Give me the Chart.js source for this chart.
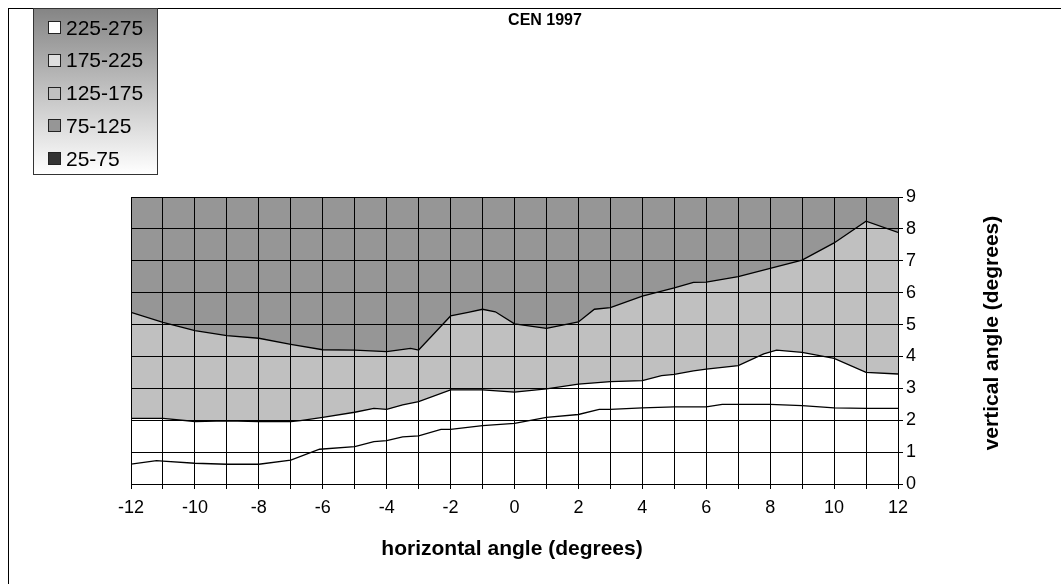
<!DOCTYPE html>
<html>
<head>
<meta charset="utf-8">
<script src="https://cdn.jsdelivr.net/npm/chart.js@4"></script>
<style>
  body { margin: 0; background: #fff; font-family: "Liberation Sans", Arial, sans-serif; }
  #wrap { position: relative; width: 1061px; height: 584px; overflow: hidden; }
  #frame { position: absolute; left: 8px; top: 8px; width: 1100px; height: 600px;
           border-left: 1px solid #000; border-top: 1px solid #000; }
  #chart { position: absolute; left: 0; top: 0; }
  #legend { position: absolute; left: 33px; top: 8px; width: 123px; height: 165px;
            border: 1px solid #333; background: linear-gradient(to bottom, #858585, #ffffff); }
  .row { position: absolute; left: 14px; height: 33px; display: flex; align-items: center;
         font-size: 21px; color: #000; }
  .sw { width: 11px; height: 11px; border: 1px solid #222; margin-right: 5px; }
  #title { position: absolute; left: 445px; width: 200px; top: 11px; text-align: center;
           font-weight: bold; font-size: 16px; }
  #xtitle { position: absolute; left: 312px; width: 400px; top: 536px; text-align: center;
            font-weight: bold; font-size: 21px; }
  #ytitle { position: absolute; left: 991px; top: 333px; width: 300px; text-align: center;
            font-weight: bold; font-size: 21px; transform: translate(-50%, -50%) rotate(-90deg); }
</style>
</head>
<body>
<div id="wrap">
  <canvas id="chart" width="1061" height="584"></canvas>
  <div id="frame"></div>
  <div id="legend"></div>
  <div id="title">CEN 1997</div>
  <div id="xtitle">horizontal angle (degrees)</div>
  <div id="ytitle">vertical angle (degrees)</div>
</div>
<script>
// Legend ranges and their shades
const ranges = ['225-275', '175-225', '125-175', '75-125', '25-75'];
const rangeColors = ['#ffffff', '#dedede', '#c0c0c0', '#969696', '#333333'];

// Contour line between 75-125 and 125-175
const upperX = [-12, -11, -10, -9, -8, -7, -6, -5, -4, -3.25, -3, -2.25, -2, -1.45, -1, -0.6, 0,
                1, 2, 2.5, 3, 4, 5, 5.6, 6, 7, 8, 9, 10, 11, 12];
const upperY = [5.38, 5.07, 4.81, 4.65, 4.57, 4.38, 4.21, 4.2, 4.15, 4.25, 4.2, 5.0, 5.27, 5.38, 5.48, 5.4, 5.02,
                4.88, 5.08, 5.48, 5.53, 5.89, 6.15, 6.32, 6.33, 6.5, 6.76, 7.02, 7.56, 8.24, 7.89];

// Contour line between 125-175 and 175-225
const middleX = [-12, -11, -10, -9, -8, -7, -6.7, -6, -5, -4.4, -4, -3.5, -3, -2, -1, 0,
                 1, 2, 3, 4, 4.6, 5, 5.6, 6, 7, 7.8, 8.2, 9, 10, 11, 12];
const middleY = [2.06, 2.06, 1.96, 1.98, 1.96, 1.96, 1.99, 2.09, 2.25, 2.37, 2.34, 2.48, 2.58, 2.95, 2.95, 2.88,
                 2.98, 3.13, 3.21, 3.24, 3.4, 3.44, 3.55, 3.6, 3.71, 4.08, 4.2, 4.13, 3.94, 3.5, 3.45];

// Contour line between 175-225 and 225-275
const lowerX = [-12, -11.2, -11, -10, -9, -8, -7, -6.1, -5, -4.4, -4, -3.5, -3, -2.3, -2, -1, 0,
                1, 2, 2.65, 3, 4, 5, 6, 6.5, 7, 8, 9, 10, 11, 12];
const lowerY = [0.62, 0.73, 0.72, 0.65, 0.62, 0.62, 0.75, 1.09, 1.17, 1.33, 1.36, 1.48, 1.51, 1.71, 1.71, 1.83, 1.9,
                2.09, 2.18, 2.34, 2.34, 2.39, 2.42, 2.42, 2.5, 2.5, 2.5, 2.46, 2.39, 2.37, 2.37];

const xLabelStep = 2;

// build legend
const legend = document.getElementById('legend');
ranges.forEach((r, i) => {
    const row = document.createElement('div');
    row.className = 'row';
    row.style.top = (2 + i * 32.75) + 'px';
    row.innerHTML = '<span class="sw" style="background:' + rangeColors[i] + '"></span>' + r;
    legend.appendChild(row);
});

const pts = (xs, ys) => xs.map((x, i) => ({ x: x, y: ys[i] }));

// paint the plot area with the 75-125 shade
const plotBackground = {
    id: 'plotBackground',
    beforeDatasetsDraw(chart) {
        const a = chart.chartArea;
        const ctx = chart.ctx;
        ctx.save();
        ctx.fillStyle = rangeColors[3];
        ctx.fillRect(a.left, a.top, a.right - a.left, a.bottom - a.top);
        ctx.restore();
    }
};

const ctx = document.getElementById('chart').getContext('2d');
new Chart(ctx, {
    type: 'line',
    data: {
        datasets: [
            { data: pts(lowerX, lowerY), borderColor: '#000', borderWidth: 1.3, fill: false },
            { data: pts(middleX, middleY), borderColor: '#000', borderWidth: 1.3,
              fill: 'origin', backgroundColor: rangeColors[0] },
            { data: pts(upperX, upperY), borderColor: '#000', borderWidth: 1.3,
              fill: 'origin', backgroundColor: rangeColors[2] }
        ]
    },
    options: {
        responsive: false,
        animation: false,
        devicePixelRatio: 1,
        layout: { padding: { left: 131, top: 197, right: 123, bottom: 60 } },
        elements: { point: { radius: 0 }, line: { tension: 0 } },
        plugins: { legend: { display: false }, tooltip: { enabled: false } },
        scales: {
            x: {
                type: 'linear', min: -12, max: 12,
                grid: { color: '#000', lineWidth: 1, tickLength: 5, z: 1 },
                border: { color: '#000', width: 1, z: 1 },
                ticks: {
                    stepSize: 1, autoSkip: false, maxRotation: 0, padding: 8,
                    color: '#000', font: { family: 'Liberation Sans', size: 18 },
                    callback: v => (v % xLabelStep === 0 ? String(v) : '')
                },
                afterFit: s => { s.height = 40; }
            },
            y: {
                position: 'right', min: 0, max: 9,
                grid: { color: '#000', lineWidth: 1, tickLength: 5, z: 1 },
                border: { color: '#000', width: 1, z: 1 },
                ticks: {
                    stepSize: 1, padding: 3,
                    color: '#000', font: { family: 'Liberation Sans', size: 18 }
                },
                afterFit: s => { s.width = 40; }
            }
        }
    },
    plugins: [plotBackground]
});
</script>
</body>
</html>
